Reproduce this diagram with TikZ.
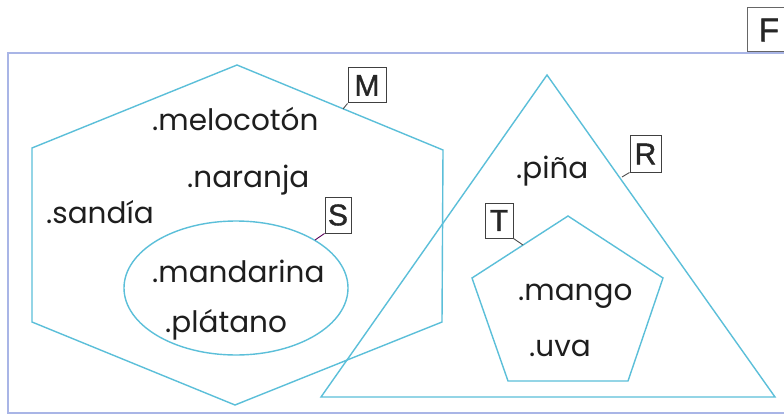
\documentclass[tikz,border=0pt]{standalone}
\usepackage{fontspec}
\setmainfont{Poppins}
\newfontfamily\labfont[FakeBold=1.2]{Liberation Sans}
\usetikzlibrary{shapes.geometric}
\definecolor{setcol}{HTML}{5BBFD9}
\definecolor{framecol}{HTML}{A9B5E6}
\definecolor{txtcol}{HTML}{1E1E1E}
\begin{document}
\begin{tikzpicture}[x=1pt,y=-1pt,
  setline/.style={draw=setcol,line width=1.4pt,line join=miter},
  fruit/.style={anchor=base west,inner sep=0pt,text=txtcol,font=\fontsize{29.5}{32}\selectfont},
  labbox/.style={draw=black!75,line width=1pt,inner sep=0pt,font=\labfont\fontsize{30}{31}\selectfont,text=black!85},
  leader/.style={draw=black!70,line width=0.9pt}]
\useasboundingbox (0,0) rectangle (784,417);
\fill[white] (0,0) rectangle (784,417);
% outer frame F
\draw[draw=framecol,line width=2pt] (8,53) rectangle (800,413);
\node[labbox,draw=black!60,minimum width=44pt,minimum height=44pt,font=\labfont\fontsize{33}{34}\selectfont] (F) at (769,30) {F};
% hexagon M
\coordinate (m1) at (237,65);
\coordinate (m2) at (443,150);
\coordinate (m3) at (442,322);
\coordinate (m4) at (235,405);
\coordinate (m5) at (32,322);
\coordinate (m6) at (32,148);
\draw[setline] (m1) -- (m2) -- (m3) -- (m4) -- (m5) -- (m6) -- cycle;
% ellipse S
\node[ellipse,setline,minimum width=224pt,minimum height=134pt,inner sep=0pt] (Sell) at (236,288) {};
% triangle R
\coordinate (r1) at (547,75);
\coordinate (r2) at (775,397);
\coordinate (r3) at (321,397);
\draw[setline] (r1) -- (r2) -- (r3) -- cycle;
% pentagon T
\coordinate (t1) at (568,216);
\coordinate (t2) at (663,278);
\coordinate (t3) at (628,381);
\coordinate (t4) at (508,381);
\coordinate (t5) at (472,278);
\draw[setline] (t1) -- (t2) -- (t3) -- (t4) -- (t5) -- cycle;
% labels
\node[labbox,minimum width=38pt,minimum height=35pt] (M) at (367,85.5) {M};
\node[labbox,minimum width=26pt,minimum height=36pt] (S) at (338,215) {S};
\node[labbox,minimum width=31pt,minimum height=36pt] (R) at (645.5,154) {R};
\node[labbox,minimum width=28pt,minimum height=35pt] (T) at (499,220.5) {T};
\coordinate (mL) at (343,109);
\coordinate (sL) at (315,240);
\coordinate (rL) at (622,177);
\coordinate (tL) at (523,245);
\draw[leader] (M.south west) -- (mL);
\draw[leader,draw=violet!70!black] (S.south west) -- (sL);
\draw[leader] (R.south west) -- (rL);
\draw[leader] (T.south east) -- (tL);
% fruits
\node[fruit] (melocoton) at (152,131) {.melocotón};
\node[fruit] (naranja) at (187,187) {.naranja};
\node[fruit] (sandia) at (46,223) {.sandía};
\node[fruit] (mandarina) at (152,282) {.mandarina};
\node[fruit] (platano) at (165,332) {.plátano};
\node[fruit] (pina) at (516,178) {.piña};
\node[fruit] (mango) at (518,300) {.mango};
\node[fruit] (uva) at (529,356) {.uva};
\end{tikzpicture}
\end{document}
